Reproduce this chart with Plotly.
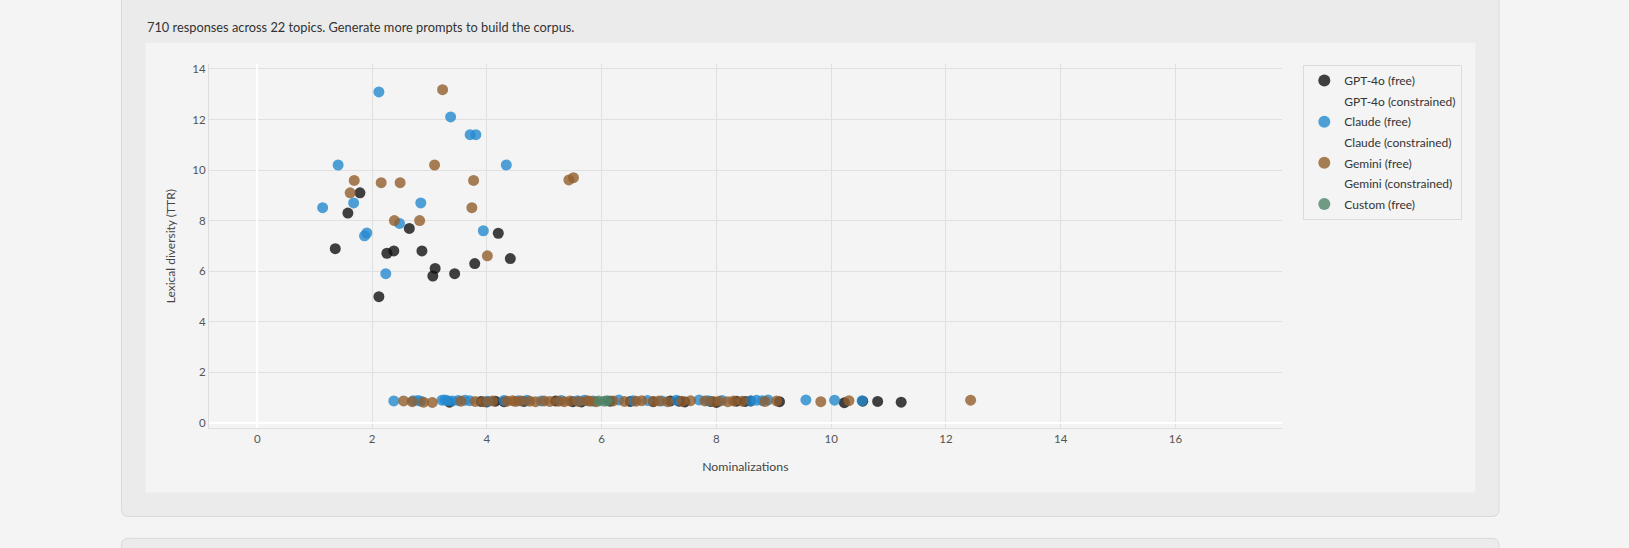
import plotly.graph_objects as go

# ---------------- data ----------------
subtitle = "710 responses across 22 topics. Generate more prompts to build the corpus."
x_title = "Nominalizations"
y_title = "Lexical diversity (TTR)"
x_ticks = [0, 2, 4, 6, 8, 10, 12, 14, 16]
y_ticks = [0, 2, 4, 6, 8, 10, 12, 14]

series_names = ["GPT-4o (free)", "GPT-4o (constrained)", "Claude (free)",
                "Claude (constrained)", "Gemini (free)", "Gemini (constrained)",
                "Custom (free)"]

gpt_x = [1.79, 1.58, 1.36, 2.26, 2.38, 2.65, 2.87, 3.06, 3.10, 3.44, 3.79, 4.20, 4.41, 2.12,
         3.35, 3.90, 4.00, 4.15, 4.30, 4.65, 5.20, 5.50, 5.65, 6.15, 6.50, 6.90, 7.20,
         7.35, 7.45, 7.90, 8.00, 8.35, 8.50, 8.60, 9.10, 10.23, 10.55, 10.81, 11.22]
gpt_y = [9.10, 8.30, 6.89, 6.71, 6.80, 7.69, 6.80, 5.81, 6.11, 5.90, 6.30, 7.50, 6.50, 4.99,
         0.82, 0.85, 0.83, 0.86, 0.84, 0.85, 0.87, 0.84, 0.83, 0.86, 0.85, 0.84, 0.87,
         0.86, 0.83, 0.85, 0.81, 0.86, 0.85, 0.87, 0.84, 0.80, 0.86, 0.85, 0.82]

claude_x = [2.12, 3.37, 3.71, 3.81, 1.41, 4.34, 1.14, 1.68, 2.85, 2.48, 1.87, 1.91, 3.94, 2.24,
            2.38, 2.72, 2.80, 2.85, 3.22, 3.27, 3.32, 3.40, 3.50, 3.62, 3.70, 4.02, 4.30,
            4.55, 4.70, 4.95, 5.30, 5.58, 5.70, 5.85, 6.30, 6.55, 6.80, 7.05, 7.30, 7.70,
            7.85, 8.10, 8.60, 8.70, 8.80, 8.90, 9.56, 10.06, 10.54]
claude_y = [13.09, 12.10, 11.40, 11.40, 10.20, 10.20, 8.51, 8.70, 8.70, 7.89, 7.40, 7.51, 7.60, 5.90,
            0.87, 0.88, 0.89, 0.86, 0.90, 0.91, 0.88, 0.87, 0.89, 0.90, 0.88, 0.86, 0.89,
            0.88, 0.90, 0.87, 0.89, 0.88, 0.90, 0.87, 0.91, 0.88, 0.89, 0.87, 0.90, 0.91,
            0.88, 0.89, 0.87, 0.90, 0.88, 0.91, 0.91, 0.90, 0.88]

gemini_x = [3.23, 3.09, 1.69, 3.77, 1.62, 2.16, 2.49, 3.74, 2.39, 2.83, 4.01, 5.43, 5.51,
            2.55, 2.70, 2.90, 3.05, 3.55, 3.80, 3.95, 4.10, 4.35, 4.45, 4.50, 4.60, 4.75,
            4.85, 5.00, 5.10, 5.25, 5.35, 5.45, 5.60, 5.75, 5.80, 5.90, 6.20, 6.40, 6.60,
            6.70, 6.90, 7.00, 7.15, 7.40, 7.55, 7.80, 7.95, 8.05, 8.20, 8.30, 8.45, 8.85,
            9.05, 9.82, 10.31, 12.43]
gemini_y = [13.18, 10.20, 9.59, 9.59, 9.10, 9.50, 9.50, 8.51, 8.00, 8.00, 6.61, 9.61, 9.70,
            0.87, 0.84, 0.82, 0.81, 0.86, 0.85, 0.84, 0.87, 0.86, 0.88, 0.85, 0.87, 0.86,
            0.84, 0.87, 0.85, 0.86, 0.84, 0.87, 0.85, 0.88, 0.86, 0.84, 0.87, 0.85, 0.86,
            0.88, 0.85, 0.87, 0.84, 0.86, 0.88, 0.87, 0.85, 0.86, 0.84, 0.87, 0.86, 0.85,
            0.87, 0.84, 0.88, 0.90]

custom_x = [5.95, 6.05, 6.10]
custom_y = [0.87, 0.86, 0.88]

empty_x, empty_y = [], []

# ---------------- styling ----------------
W, H = 1629, 548
FONT = "Lato, 'Open Sans', sans-serif"
colors = {"GPT-4o (free)": "#111111", "Claude (free)": "#268acf",
          "Gemini (free)": "#925e2d", "Custom (free)": "#4e8366"}

def px(v):
    return v / W

def py(v):
    return 1 - v / H

def rounded_rect(x0, y0, x1, y1, r):
    rx, ry = r / W, r / H
    X0, X1 = px(x0), px(x1)
    Y0, Y1 = py(y0), py(y1)  # Y0 top, Y1 bottom
    return (f"M {X0+rx},{Y0} L {X1-rx},{Y0} Q {X1},{Y0} {X1},{Y0-ry} "
            f"L {X1},{Y1+ry} Q {X1},{Y1} {X1-rx},{Y1} L {X0+rx},{Y1} "
            f"Q {X0},{Y1} {X0},{Y1+ry} L {X0},{Y0-ry} Q {X0},{Y0} {X0+rx},{Y0} Z")

fig = go.Figure()

data_map = {
    "GPT-4o (free)": (gpt_x, gpt_y),
    "GPT-4o (constrained)": (empty_x, empty_y),
    "Claude (free)": (claude_x, claude_y),
    "Claude (constrained)": (empty_x, empty_y),
    "Gemini (free)": (gemini_x, gemini_y),
    "Gemini (constrained)": (empty_x, empty_y),
    "Custom (free)": (custom_x, custom_y),
}

for name in series_names:
    xs, ys = data_map[name]
    if name in colors:
        marker = dict(color=colors[name], size=11, opacity=0.8, line=dict(width=0))
    else:
        marker = dict(color="rgba(0,0,0,0)", size=11, line=dict(width=0))
        xs, ys = [None], [None]
    fig.add_trace(go.Scatter(x=xs, y=ys, mode="markers", name=name, marker=marker,
                             legendgroup=name))

shapes = [
    dict(type="path", xref="paper", yref="paper", layer="below",
         path=rounded_rect(121.5, -20, 1499, 517.3, 7),
         fillcolor="#ebebeb", line=dict(color="#d9d9d9", width=1)),
    dict(type="path", xref="paper", yref="paper", layer="below",
         path=rounded_rect(121.5, 539.3, 1499, 600, 7),
         fillcolor="#ebebeb", line=dict(color="#d9d9d9", width=1)),
    dict(type="rect", xref="paper", yref="paper", layer="below",
         x0=px(145.5), x1=px(1475.3), y0=py(493.3), y1=py(41),
         fillcolor="#f4f4f4", line=dict(width=0)),
]

fig.update_layout(
    width=W, height=H,
    margin=dict(l=0, r=0, t=0, b=0),
    paper_bgcolor="#f4f4f4",
    plot_bgcolor="rgba(0,0,0,0)",
    font=dict(family=FONT, size=11.5, color="#444444"),
    shapes=shapes,
    showlegend=True,
    legend=dict(x=px(1303.3), y=py(63.3), xanchor="left", yanchor="top",
                bgcolor="#f4f4f4", bordercolor="#dcdcdc", borderwidth=1,
                font=dict(family=FONT, size=12, color="#333333"),
                tracegroupgap=1.6, itemsizing="constant"),
    annotations=[dict(text=subtitle, xref="paper", yref="paper",
                      x=px(145.4), y=py(25), xanchor="left", yanchor="middle",
                      showarrow=False, font=dict(family=FONT, size=12.8, color="#333333"))],
    xaxis=dict(domain=[px(209), px(1281.7)], range=[-0.84, 17.85],
               tickvals=x_ticks, ticktext=[str(v) for v in x_ticks],
               showgrid=True, gridcolor="#e0e0e0", gridwidth=1,
               zeroline=True, zerolinecolor="#ffffff", zerolinewidth=2,
               showline=True, linecolor="#dedede", linewidth=1,
               ticks="", tickfont=dict(size=11.5, color="#555555"),
               title=dict(text=x_title, font=dict(size=12.3, color="#444444"), standoff=18)),
    yaxis=dict(domain=[py(428.3), py(62.7)], range=[-0.2, 14.18],
               tickvals=y_ticks, ticktext=[str(v) for v in y_ticks],
               showgrid=True, gridcolor="#e0e0e0", gridwidth=1,
               zeroline=True, zerolinecolor="#ffffff", zerolinewidth=2,
               showline=True, linecolor="#dedede", linewidth=1,
               ticks="", tickfont=dict(size=11.5, color="#555555"),
               title=dict(text=y_title, font=dict(size=12, color="#444444"), standoff=14)),
)

fig.write_html("out.html", config={"displayModeBar": False},
               post_script="document.body.style.margin='0';document.body.style.padding='0';document.body.style.overflow='hidden';")
